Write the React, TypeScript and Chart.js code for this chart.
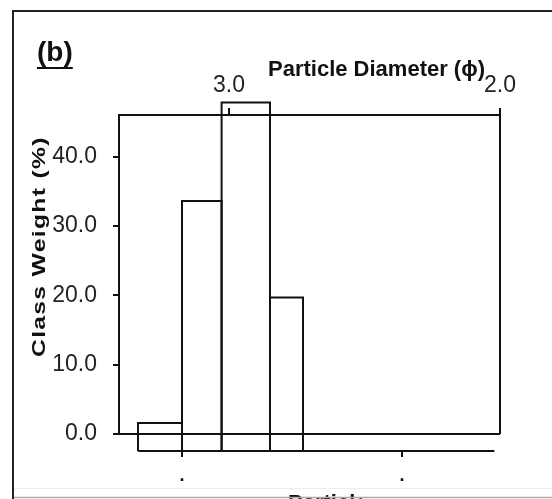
import React, { useEffect, useRef } from "react";
import { Chart, registerables } from "chart.js";

Chart.register(...registerables);

// Class weight (%) per size class
const classWeights = [1.6, 33.6, 47.8, 19.7];
// Class boundaries on the lower axis (phi)
const classEdges = [3.2, 3.0, 2.82, 2.6, 2.45];
// Bars stand on the lower axis line
const barBase = -2.45;
const lowerAxisSpan = [3.2, 1.58];

const yTickValues = [0, 10, 20, 30, 40];
const topTickValues = [3.0, 2.0];
const topTickLabels = ["3.0", "2.0"];
const lowerTickValues = [3.0, 2.0];
const lowerTickLabels = [".", "."];

const panelLabel = "(b)";
const xTitle = "Particle Diameter (\u03d5)";
const yTitle = "Class Weight (%)";

const INK = "#111";
const SANS = '"Liberation Sans", Arial, sans-serif';

const decor = {
  id: "decor",
  beforeDatasetsDraw(chart: any) {
    const { ctx, chartArea, scales } = chart;
    const { left, right, top } = chartArea;
    const y = scales.y;
    const x2 = scales.x2;
    const y0 = y.getPixelForValue(0);
    const yb = y.getPixelForValue(barBase);
    ctx.save();
    ctx.strokeStyle = INK;
    ctx.lineWidth = 2;
    ctx.beginPath();
    ctx.moveTo(left, top);
    ctx.lineTo(left, y0);
    ctx.moveTo(right, top - 1);
    ctx.lineTo(right, y0);
    ctx.moveTo(left - 6, y0);
    ctx.lineTo(right, y0);
    ctx.moveTo(x2.getPixelForValue(lowerAxisSpan[0]), yb);
    ctx.lineTo(x2.getPixelForValue(lowerAxisSpan[1]), yb);
    ctx.stroke();
    ctx.restore();
  },
  afterDraw(chart: any) {
    const { ctx } = chart;
    ctx.save();
    // outer frame
    ctx.strokeStyle = "#222";
    ctx.lineWidth = 2;
    ctx.beginPath();
    ctx.moveTo(13, 499);
    ctx.lineTo(13, 11);
    ctx.lineTo(552, 11);
    ctx.stroke();
    ctx.strokeStyle = "#ececec";
    ctx.lineWidth = 1;
    ctx.beginPath();
    ctx.moveTo(14, 488.5);
    ctx.lineTo(552, 488.5);
    ctx.stroke();

    ctx.fillStyle = INK;
    ctx.textAlign = "left";
    ctx.textBaseline = "alphabetic";
    // panel label
    ctx.font = `bold 28px ${SANS}`;
    ctx.fillText(panelLabel, 37, 61);
    const w = ctx.measureText(panelLabel).width;
    ctx.fillRect(37, 67, w, 2);

    // axis titles
    ctx.font = `bold 22px ${SANS}`;
    ctx.fillText(xTitle, 268, 76);
    ctx.save();
    ctx.beginPath();
    ctx.rect(0, 0, 362, 499);
    ctx.clip();
    ctx.fillText(xTitle, 288, 510);
    ctx.restore();

    ctx.strokeStyle = "#aaa";
    ctx.lineWidth = 1.5;
    ctx.beginPath();
    ctx.moveTo(14, 497.5);
    ctx.lineTo(552, 497.5);
    ctx.stroke();

    ctx.translate(45, 357);
    ctx.rotate(-Math.PI / 2);
    ctx.scale(1.3, 1);
    ctx.font = `bold 19px ${SANS}`;
    (ctx as any).letterSpacing = "1px";
    ctx.fillText(yTitle, 0, 0);
    ctx.restore();
  },
};

export default function App() {
  const ref = useRef<HTMLCanvasElement | null>(null);

  useEffect(() => {
    if (!ref.current) return;
    const datasets = classWeights.map((v, i) => ({
      data: [
        { x: classEdges[i], y: barBase },
        { x: classEdges[i], y: v },
        { x: classEdges[i + 1], y: v },
        { x: classEdges[i + 1], y: barBase },
      ],
      xAxisID: "x2",
      yAxisID: "y",
      borderColor: INK,
      borderWidth: 2,
      pointRadius: 0,
      fill: false,
      tension: 0,
      clip: false as any,
      showLine: true,
    }));

    const chart = new Chart(ref.current, {
      type: "scatter",
      data: { datasets },
      options: {
        animation: false,
        responsive: false,
        events: [],
        layout: { padding: { left: 0, top: 0, right: 52, bottom: 0 } },
        plugins: { legend: { display: false }, tooltip: { enabled: false } },
        scales: {
          x: {
            type: "linear",
            position: "top",
            reverse: true,
            min: 2.0,
            max: 3.406,
            afterBuildTicks: (s: any) => {
              s.ticks = topTickValues.map((v) => ({ value: v }));
            },
            afterFit: (s: any) => {
              s.height = 115;
            },
            ticks: {
              autoSkip: false,
              maxRotation: 0,
              padding: 9,
              color: "#222",
              font: { family: SANS, size: 23 },
              callback: (v: any) => topTickLabels[topTickValues.indexOf(Number(v))] ?? "",
            },
            grid: { drawOnChartArea: false, drawTicks: true, tickLength: 7, color: INK, lineWidth: 2 },
            border: { display: true, color: INK, width: 2 },
          },
          x2: {
            type: "linear",
            position: "bottom",
            reverse: true,
            min: 1.5545,
            max: 3.2864,
            afterBuildTicks: (s: any) => {
              s.ticks = lowerTickValues.map((v) => ({ value: v }));
            },
            afterFit: (s: any) => {
              s.height = 48;
            },
            ticks: {
              autoSkip: false,
              maxRotation: 0,
              padding: 8,
              color: INK,
              font: { family: SANS, size: 18, weight: "bold" },
              callback: (v: any) => lowerTickLabels[lowerTickValues.indexOf(Number(v))] ?? "",
            },
            grid: { drawOnChartArea: false, drawTicks: true, tickLength: 6, color: INK, lineWidth: 2 },
            border: { display: false },
          },
          y: {
            type: "linear",
            min: barBase,
            max: 46,
            afterBuildTicks: (s: any) => {
              s.ticks = yTickValues.map((v) => ({ value: v }));
            },
            afterFit: (s: any) => {
              s.width = 119;
            },
            ticks: {
              padding: 16,
              color: "#222",
              font: { family: SANS, size: 23 },
              callback: (v: any) => Number(v).toFixed(1),
            },
            grid: { drawOnChartArea: false, drawTicks: true, tickLength: 6, color: INK, lineWidth: 2 },
            border: { display: false },
          },
        },
      },
      plugins: [decor],
    });
    return () => chart.destroy();
  }, []);

  return (
    <div style={{ position: "fixed", left: 0, top: 0, width: 552, height: 499, background: "#fff" }}>
      <canvas ref={ref} width={552} height={499} style={{ display: "block", width: 552, height: 499 }} />
    </div>
  );
}
